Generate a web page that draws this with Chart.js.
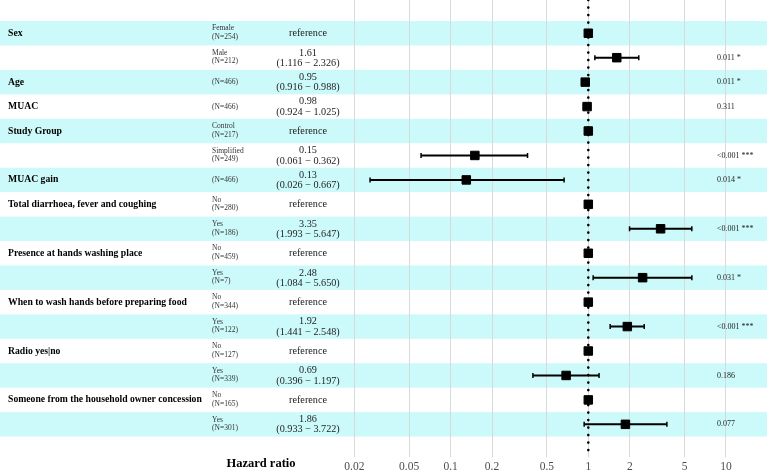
<!DOCTYPE html>
<html>
<head>
<meta charset="utf-8">
<script src="https://cdn.jsdelivr.net/npm/chart.js@4.4.0/dist/chart.umd.min.js"></script>
<style>
  html, body { margin: 0; padding: 0; background: #fff; }
</style>
</head>
<body>
<canvas id="forest" width="767" height="473"></canvas>
<script>
// one entry per row of the forest plot, top to bottom
const variables = ['Sex', '', 'Age', 'MUAC', 'Study Group', '', 'MUAC gain',
  'Total diarrhoea, fever and coughing', '', 'Presence at hands washing place', '',
  'When to wash hands before preparing food', '', 'Radio yes|no', '',
  'Someone from the household owner concession', ''];
const levels = ['Female', 'Male', '', '', 'Control', 'Simplified', '', 'No', 'Yes',
  'No', 'Yes', 'No', 'Yes', 'No', 'Yes', 'No', 'Yes'];
const counts = [254, 212, 466, 466, 217, 249, 466, 280, 186, 459, 7, 344, 122, 127, 339, 165, 301];
const hazardRatios = [1, 1.61, 0.95, 0.98, 1, 0.15, 0.13, 1, 3.35, 1, 2.48, 1, 1.92, 1, 0.69, 1, 1.86];
const lowerCI = [null, 1.116, 0.916, 0.924, null, 0.061, 0.026, null, 1.993, null, 1.084, null, 1.441, null, 0.396, null, 0.933];
const upperCI = [null, 2.326, 0.988, 1.025, null, 0.362, 0.667, null, 5.647, null, 5.650, null, 2.548, null, 1.197, null, 3.722];
const pValues = ['', '0.011 *', '0.011 *', '0.311', '', '<0.001 ***', '0.014 *', '', '<0.001 ***',
  '', '0.031 *', '', '<0.001 ***', '', '0.186', '', '0.077'];
const tickValues = [0.02, 0.05, 0.1, 0.2, 0.5, 1, 2, 5, 10];

const SERIF = "'Liberation Serif', 'Times New Roman', serif";
const yTop = -1.36;
const yBottom = 17.14;

// squares
const squarePoints = hazardRatios.map((hr, i) => ({ x: hr, y: i }));

// confidence intervals, split by null points so every row is its own segment
const ciPoints = [];
lowerCI.forEach((lo, i) => {
  if (lo === null) return;
  ciPoints.push({ x: lo, y: i }, { x: upperCI[i], y: i }, { x: null, y: null });
});

// the rows background + all the text columns
const tablePlugin = {
  id: 'forestTable',
  beforeDraw(chart) {
    const { ctx, scales: { y }, width } = chart;
    ctx.save();
    ctx.fillStyle = '#ccfafa';
    for (let i = 0; i < variables.length; i += 2) {
      const a = y.getPixelForValue(i - 0.5);
      const b = y.getPixelForValue(i + 0.5);
      ctx.fillRect(0, Math.min(a, b), width, Math.abs(b - a));
    }
    ctx.restore();
  },
  afterDraw(chart) {
    const { ctx, scales: { y } } = chart;
    ctx.save();
    ctx.textBaseline = 'middle';
    variables.forEach((name, i) => {
      const yc = y.getPixelForValue(i);

      if (name) {
        ctx.font = 'bold 9.7px ' + SERIF;
        ctx.fillStyle = '#000';
        ctx.textAlign = 'left';
        ctx.fillText(name, 8, yc);
      }

      // level + N
      ctx.font = '7.5px ' + SERIF;
      ctx.fillStyle = '#333';
      ctx.textAlign = 'left';
      if (levels[i]) {
        ctx.fillText(levels[i], 212, yc - 4.8);
        ctx.fillText('(N=' + counts[i] + ')', 212, yc + 3.8);
      } else {
        ctx.fillText('(N=' + counts[i] + ')', 212, yc);
      }

      // estimate column
      ctx.font = '10.2px ' + SERIF;
      ctx.fillStyle = '#222';
      ctx.textAlign = 'center';
      if (lowerCI[i] === null) {
        ctx.fillText('reference', 308, yc);
      } else {
        ctx.fillText(hazardRatios[i].toFixed(2), 308, yc - 4.8);
        ctx.fillText('(' + lowerCI[i].toFixed(3) + ' \u2212 ' + upperCI[i].toFixed(3) + ')', 308, yc + 5.4);
      }

      // p values
      if (pValues[i]) {
        ctx.font = '8px ' + SERIF;
        ctx.fillStyle = '#222';
        ctx.textAlign = 'left';
        ctx.fillText(pValues[i], 717, yc);
      }
    });

    ctx.font = 'bold 12.5px ' + SERIF;
    ctx.fillStyle = '#000';
    ctx.textAlign = 'center';
    ctx.fillText('Hazard ratio', 261, 464);
    ctx.restore();
  }
};

new Chart(document.getElementById('forest'), {
  type: 'scatter',
  data: {
    datasets: [
      {
        data: squarePoints,
        pointStyle: 'rect',
        pointRadius: 6,
        pointBackgroundColor: '#000',
        pointBorderColor: '#000',
        pointBorderWidth: 1,
        showLine: false
      },
      {
        data: ciPoints,
        showLine: true,
        borderColor: '#000',
        borderWidth: 2,
        pointStyle: 'line',
        rotation: 90,
        pointRadius: 2.5,
        pointBorderWidth: 1.5,
        pointBorderColor: '#000'
      },
      {
        data: [{ x: 1, y: yTop }, { x: 1, y: 17.28 }],
        showLine: true,
        borderColor: '#000',
        borderWidth: 2.6,
        borderDash: [0.1, 7.4],
        borderCapStyle: 'round',
        pointRadius: 0,
        clip: false
      }
    ]
  },
  options: {
    responsive: false,
    animation: false,
    devicePixelRatio: 1,
    layout: { padding: { top: 0, left: 0, right: 0, bottom: -4 }, autoPadding: false },
    plugins: { legend: { display: false }, tooltip: { enabled: false } },
    scales: {
      x: {
        type: 'logarithmic',
        min: 5.34e-5,
        max: 19.85,
        bounds: 'data',
        afterBuildTicks: (axis) => {
          axis.ticks = tickValues.map(v => ({ value: v }));
        },
        ticks: {
          callback: (v) => String(v),
          autoSkip: false,
          maxRotation: 0,
          padding: 3,
          color: '#4d4d4d',
          font: { family: SERIF, size: 11.5 }
        },
        grid: { color: '#d9d9d9', lineWidth: 1, tickLength: 5 },
        border: { display: false }
      },
      y: {
        type: 'linear',
        reverse: true,
        min: yTop,
        max: yBottom,
        display: false
      }
    }
  },
  plugins: [tablePlugin]
});
</script>
</body>
</html>
